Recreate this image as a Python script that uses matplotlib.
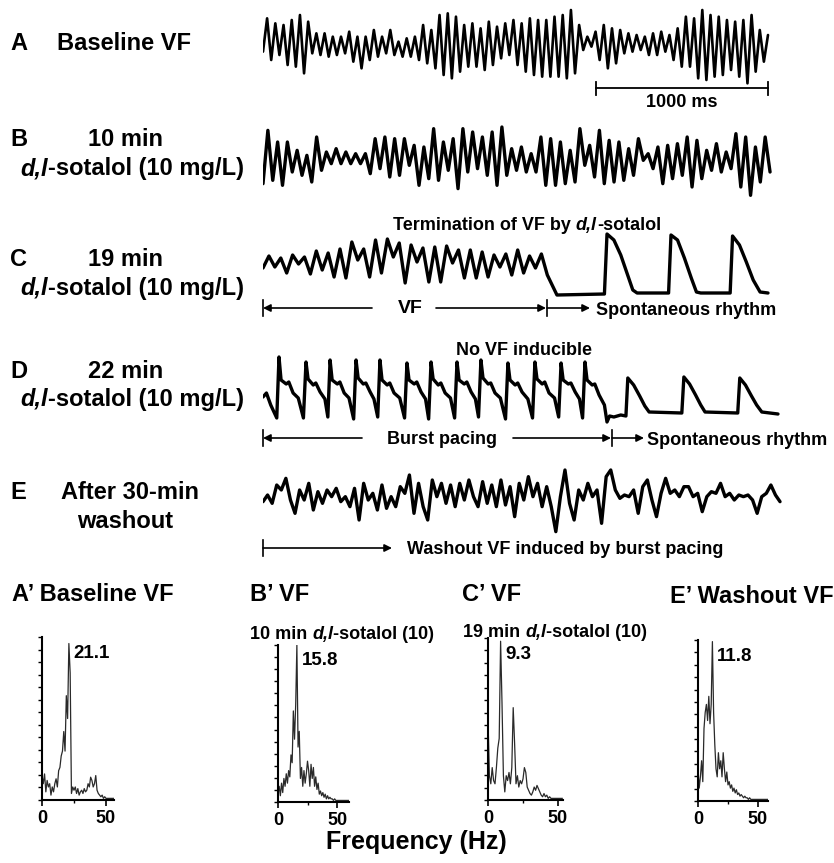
import matplotlib.pyplot as plt
import numpy as np

plt.rcParams['font.family'] = ['Liberation Sans', 'DejaVu Sans']
plt.rcParams['font.weight'] = 'bold'

# --- figure geometry (pixels) ---
W, H = 834, 863
PX_PER_MS = 0.172      # 1000 ms = 172 px in the trace rows
TRACE_X0 = 263
T_MAX = 3100

# --- trace data (extrema, arbitrary units) ---
A_DUR = 2936
A_vals = [-2.0,
          8.0, -4.5, 6.5, -3.0, 6.0, -6.0, 7.5, -6.5, 9.0, -8.5, 7.0, -2.5, 3.5, -3.0, 3.5, -3.5, 2.5, -3.0, 2.5, -2.5,
          4.0, -5.0, 2.5, -7.0, 2.5, -4.5, 4.5, -3.5, 2.5, -2.5, 4.5, -3.0, 1.0, -3.5, 2.0, -3.5, 2.5, -4.5, 6.0, -5.5,
          4.5, -7.0, 9.0, -9.0, 9.5, -10.0, 8.5, -8.0, 6.0, -6.5, 6.5, -6.5, 5.0, -7.5, 7.0, -6.0, 5.5, -4.0, 6.5,
          -3.0, 7.5, -6.0, 6.5, -8.0, 8.0, -9.0, 7.5, -9.5, 7.5, -9.5, 8.5, -9.5, 9.0, -10.0, 10.5, -8.5, 6.0,
          -1.5, 2.5, -0.5, 4.0, -4.5, 6.0, -7.0, 5.0, -5.5, 4.5, -2.5, 3.5, -2.0, 3.0, -1.5, 2.5, -3.0, 3.5,
          -3.0, 4.0, -2.0, 3.0, -4.5, 5.0, -6.5, 8.5, -6.5, 8.0, -10.0, 10.5, -10.5, 9.0, -9.5, 8.5, -9.0, 7.5,
          -7.5, 7.0, -9.5, 7.5, -11.5, 9.0, -8.0, 4.5, -5.0, 3.0]

B_DUR = 2948
B_vals = [-7.0,
          9.0, -6.0, 5.5, -7.5, 5.5, -3.5, 3.0, -4.5, 1.5, -6.5, 7.0, -3.0, 2.5, -1.0, 3.5, -1.0, 2.5, -1.0,
          2.0, -1.0, 2.0, -4.0, 6.5, -2.5, 7.0, -5.0, 6.5, -4.5, 6.5, -1.5, 4.5, -7.5, 4.0, -5.5, 9.5, -6.0,
          5.5, -3.0, 6.5, -8.5, 9.5, -3.5, 8.5, -2.5, 7.0, -4.5, 8.5, -7.5, 10.0, -4.5, 3.5, -3.0, 4.0, -3.5,
          2.0, -3.5, 7.0, -7.5, 6.5, -7.5, 5.5, -7.0, 3.0, -6.5, 9.5, -1.5, 4.5, -5.0, 9.0, -7.0, 6.0, -6.5,
          5.5, -6.0, 3.5, -4.5, 6.5, 0.0, 2.0, -2.5, 4.0, -7.0, 4.5, -5.5, 5.0, -4.5, 7.0, -8.0, 6.0, -5.5,
          3.0, -3.0, 5.0, -3.5, 2.5, -2.5, 8.0, -8.0, 7.0, -10.5, 4.0, -6.5, 7.0, -3.5]

C_VF_END = 1653
C_vf = [-0.3, 0.9, -0.2, 0.7, -0.8, 1.0, 0.1, 0.8, -0.9, 1.4, -0.5, 1.2, -1.2, 1.6, -1.3, 2.3, 0.5,
        1.6, -1.2, 2.5, -0.8, 2.6, 0.8, 2.2, -1.8, 2.0, 0.3, 1.7, -1.7, 1.8, -1.7, 1.9, 0.2, 1.5,
        -1.3, 1.5, -1.3, 1.3, -1.2, 1.0, -0.2, 1.1, -1.0, 1.5, -0.8, 0.9, -0.3, 1.1, -1.0]
C_tail_t = [1709, 1985, 2000, 2040, 2080, 2120, 2150, 2175, 2358, 2372, 2410, 2450, 2490, 2520,
            2545, 2716, 2730, 2770, 2810, 2850, 2890, 2936]
C_tail_v = [-3.0, -2.9, 3.1, 2.5, 1.0, -1.0, -2.5, -2.8, -2.8, 3.0, 2.5, 0.7, -1.3, -2.7,
            -2.8, -2.8, 2.9, 2.0, 0.3, -1.5, -2.7, -2.8]

D_t = [0, 20, 45, 80,
       93, 105, 135, 150, 175, 205, 235,
       250, 262, 292, 307, 332, 360, 377,
       390, 402, 432, 447, 472, 500, 527,
       541, 553, 583, 598, 623, 645, 667,
       680, 692, 722, 737, 762, 795, 823,
       837, 849, 879, 894, 919, 945, 963,
       977, 989, 1019, 1034, 1059, 1090, 1114,
       1128, 1140, 1170, 1185, 1210, 1235, 1253,
       1267, 1279, 1309, 1324, 1349, 1380, 1410,
       1424, 1436, 1466, 1481, 1506, 1540, 1567,
       1581, 1593, 1623, 1638, 1663, 1695, 1719,
       1733, 1745, 1775, 1790, 1815, 1840, 1858,
       1872, 1884, 1914, 1929, 1954, 1985, 2000,
       2015, 2040, 2080, 2110,
       2121, 2155, 2190, 2220, 2245, 2435,
       2447, 2480, 2515, 2545, 2570, 2760,
       2772, 2805, 2840, 2870, 2900, 2994]
D_v = [-0.7, -0.3, -1.5, -2.8,
       3.3, 1.0, 0.6, 0.8, -0.3, -0.8, -2.8,
       2.8, 1.1, 0.5, 0.7, -0.2, -0.9, -2.7,
       3.0, 1.0, 0.6, 0.8, -0.3, -0.8, -2.9,
       3.0, 1.2, 0.6, 0.7, -0.2, -0.9, -2.7,
       3.0, 1.0, 0.5, 0.7, -0.3, -0.8, -2.8,
       2.7, 1.0, 0.6, 0.8, -0.2, -0.9, -2.9,
       2.8, 1.1, 0.5, 0.7, -0.3, -0.8, -2.8,
       2.8, 1.0, 0.6, 0.8, -0.2, -0.9, -2.7,
       3.0, 1.2, 0.6, 0.7, -0.3, -0.8, -2.9,
       2.7, 1.0, 0.5, 0.7, -0.2, -0.9, -2.8,
       2.8, 1.1, 0.6, 0.8, -0.3, -0.8, -2.7,
       2.7, 1.0, 0.6, 0.7, -0.2, -0.9, -2.8,
       2.8, 1.0, 0.5, 0.6, -0.5, -1.5, -3.2,
       -2.6, -2.7, -2.5, -2.6,
       1.2, 0.5, -0.6, -1.6, -2.2, -2.3,
       1.3, 0.6, -0.5, -1.5, -2.2, -2.3,
       1.2, 0.5, -0.6, -1.5, -2.2, -2.4]

E_DUR = 3006
E_vals = [0.0, 2.0, -0.5, 5.0, 3.5, 7.0, 0.5, -3.5, 3.5, 0.5, 5.5, -2.5, 3.0, -0.5, 3.5, 1.5, 4.0, 0.0,
          1.5, -1.5, 4.0, -5.5, 5.5, 0.5, 2.5, -2.5, 5.0, -2.0, 1.5, -1.5, 4.5, 2.5, 8.0, -3.5, 5.5, -1.5,
          -5.5, 6.5, 1.5, 5.5, -0.5, 5.0, -1.5, 5.5, 0.5, 6.5, 1.5, -1.5, 6.0, -0.5, 5.0, -1.5, 6.5, -1.0,
          4.5, -4.5, 5.5, 0.5, 7.5,
          1.5, 5.5, -1.5, 4.5, -1.5, -9.0, 1.5, 9.5, -0.5, -5.5, 3.5, 0.5, 5.5, 1.5, 3.5, -6.5, 7.5, 9.5,
          3.5, 1.0, 2.0, 1.5, 3.5, -3.5, 4.5, 6.5, 0.5, -4.5, 2.5, 7.0, 2.5, 3.5, 1.5, 4.5, 4.5, 1.5,
          2.5, -3.0, 1.5, 3.0, 2.5, 5.5, 1.5, 2.5, 0.5, 2.0, 1.5, 2.0, 0.5, -3.5, 1.5, 2.5, 5.0, 2.0, 0.0]

# --- power spectra (1 Hz bins, normalised amplitude) ---
A_spec = [0.15, 0.10, 0.16, 0.05, 0.12, 0.08, 0.10, 0.03, 0.08, 0.05, 0.10, 0.13, 0.08, 0.18, 0.20,
          0.27, 0.30, 0.42, 0.30, 0.64, 0.50, 0.96, 0.78, 0.04, 0.08, 0.06, 0.08, 0.04, 0.07, 0.03,
          0.05, 0.06, 0.04, 0.07, 0.05, 0.06, 0.10, 0.08, 0.14, 0.12, 0.08, 0.10, 0.15, 0.06, 0.04,
          0.03, 0.02, 0.03, 0.01, 0.02, 0.01, 0.01, 0.01, 0.01, 0.01, 0.01, 0.01]
B_spec = [0.05, 0.10, 0.04, 0.12, 0.06, 0.15, 0.10, 0.18, 0.12, 0.20, 0.16, 0.30, 0.25, 0.58, 0.40,
          0.62, 1.00, 0.35, 0.45, 0.15, 0.22, 0.10, 0.20, 0.12, 0.18, 0.26, 0.20, 0.10, 0.24, 0.15,
          0.22, 0.10, 0.16, 0.08, 0.12, 0.05, 0.07, 0.04, 0.06, 0.03, 0.05, 0.02, 0.04, 0.02, 0.03,
          0.02, 0.02, 0.01, 0.02, 0.01, 0.01, 0.01, 0.01, 0.01, 0.01, 0.01, 0.01, 0.01, 0.01, 0.01, 0.01]
C_spec = [0.50, 0.15, 0.10, 0.20, 0.12, 0.10, 0.20, 0.32, 0.38, 0.98, 0.60, 0.15, 0.05, 0.15, 0.12,
          0.17, 0.10, 0.20, 0.57, 0.35, 0.10, 0.15, 0.08, 0.12, 0.10, 0.13, 0.20, 0.17, 0.08, 0.06,
          0.04, 0.03, 0.05, 0.08, 0.06, 0.09, 0.07, 0.05, 0.03, 0.02, 0.04, 0.02, 0.03, 0.01, 0.02,
          0.01, 0.01, 0.01, 0.01, 0.01, 0.01, 0.01, 0.01, 0.01]
E_spec = [0.20, 0.08, 0.15, 0.25, 0.12, 0.45, 0.55, 0.60, 0.50, 0.65, 0.48, 0.60, 0.99, 0.55, 0.35,
          0.20, 0.15, 0.30, 0.20, 0.25, 0.15, 0.30, 0.20, 0.12, 0.18, 0.10, 0.12, 0.08, 0.10, 0.06,
          0.08, 0.05, 0.07, 0.04, 0.05, 0.03, 0.04, 0.03, 0.02, 0.03, 0.02, 0.02, 0.01, 0.02, 0.01,
          0.01, 0.01, 0.01, 0.01, 0.01, 0.01, 0.01, 0.01, 0.01, 0.01, 0.01, 0.01, 0.01, 0.01]
DOM_FREQ = ['21.1', '15.8', '9.3', '11.8']

fig = plt.figure(figsize=(W / 100, H / 100), dpi=100)


def px_axes(x0, y0, x1, y1):
    return fig.add_axes([x0 / W, 1 - y1 / H, (x1 - x0) / W, (y1 - y0) / H])


def trace_axes(y0, y1, ylim):
    ax = px_axes(TRACE_X0, y0, TRACE_X0 + T_MAX * PX_PER_MS, y1)
    ax.set_xlim(0, T_MAX)
    ax.set_ylim(*ylim)
    ax.axis('off')
    return ax


# overlay for labels and arrows, in pixel coordinates
ov = fig.add_axes([0, 0, 1, 1])
ov.set_xlim(0, W)
ov.set_ylim(H, 0)
ov.axis('off')


def rich(x, y, parts, size):
    t = ov.text(x, y, parts[0][0], fontsize=size, fontstyle=parts[0][1], va='center', ha='left')
    for s, st in parts[1:]:
        t = ov.annotate(s, xy=(1, 0), xycoords=t, fontsize=size, fontstyle=st,
                        va='bottom', ha='left')


SOT = [('d,l', 'italic'), ('-sotalol (10 mg/L)', 'normal')]
TRACE_STYLE = dict(color='k', solid_joinstyle='round', solid_capstyle='round')

# --- trace rows ---
ax_a = trace_axes(5, 85, (-12, 12))
ax_a.plot(np.linspace(0, A_DUR, len(A_vals)), A_vals, lw=1.9, **TRACE_STYLE)
ax_a.plot([A_DUR - 1000, A_DUR], [-0.0375, -0.0375], color='k', lw=1.3,
          transform=ax_a.get_xaxis_transform(), clip_on=False)
for tx in (A_DUR - 1000, A_DUR):
    ax_a.plot([tx, tx], [0.0375, -0.125], color='k', lw=1.3,
              transform=ax_a.get_xaxis_transform(), clip_on=False)
ax_a.text(A_DUR - 500, -0.22, '1000 ms', ha='center', va='center', fontsize=13,
          transform=ax_a.get_xaxis_transform())

ax_b = trace_axes(120, 200, (-11.9, 12.1))
ax_b.plot(np.linspace(0, B_DUR, len(B_vals)), B_vals, lw=2.4, **TRACE_STYLE)

ax_c = trace_axes(225, 300, (-3.5, 4.0))
ax_c.plot(list(np.linspace(0, C_VF_END, len(C_vf))) + C_tail_t, C_vf + C_tail_v, lw=2.4, **TRACE_STYLE)

ax_d = trace_axes(345, 430, (-4.0, 4.5))
ax_d.plot(D_t, D_v, lw=2.4, **TRACE_STYLE)

ax_e = trace_axes(460, 545, (-13.0, 12.5))
ax_e.plot(np.linspace(0, E_DUR, len(E_vals)), E_vals, lw=2.4, **TRACE_STYLE)

# --- row labels ---
LBL = 17
ov.text(10, 44, 'A', fontsize=LBL, va='center')
ov.text(57, 44, 'Baseline VF', fontsize=LBL, va='center')
for letter, y1, y2, txt in [('B', 139, 169, '10 min'), ('C', 259, 288, '19 min'),
                            ('D', 371, 399, '22 min')]:
    ov.text(10, y1, letter, fontsize=LBL, va='center')
    ov.text(88, y1, txt, fontsize=LBL, va='center')
    rich(20, y2, SOT, LBL)
ov.text(10, 492, 'E', fontsize=LBL, va='center')
ov.text(61, 492, 'After 30-min', fontsize=LBL, va='center')
ov.text(125, 521, 'washout', fontsize=LBL, va='center', ha='center')

# --- annotations ---
ANN = 13
rich(393, 225, [('Termination of VF by ', 'normal'), ('d,l', 'italic'), ('-sotalol', 'normal')], ANN)
ov.text(524, 350, 'No VF inducible', fontsize=ANN, va='center', ha='center')

arrow = dict(arrowstyle='-|>', lw=1.2, color='k', mutation_scale=11, shrinkA=0, shrinkB=0)


def arrow_row(y, segs, ticks):
    for x_from, x_to in segs:
        ov.annotate('', xy=(x_to, y), xytext=(x_from, y), arrowprops=arrow)
    for x in ticks:
        ov.plot([x, x], [y - 8, y + 8], color='k', lw=1.2)


arrow_row(308, [(372, 263), (436, 546), (547, 590)], [263, 547])
ov.text(410, 308, 'VF', fontsize=ANN + 1, va='center', ha='center')
ov.text(596, 310, 'Spontaneous rhythm', fontsize=ANN, va='center')

arrow_row(438, [(362, 263), (513, 611), (612, 644)], [263, 612])
ov.text(442, 439, 'Burst pacing', fontsize=ANN, va='center', ha='center')
ov.text(647, 440, 'Spontaneous rhythm', fontsize=ANN, va='center')

arrow_row(548, [(263, 392)], [263])
ov.text(407, 549, 'Washout VF induced by burst pacing', fontsize=ANN, va='center')

# --- spectra ---
TTL = 17
ov.text(12, 594, 'A\u2019 Baseline VF', fontsize=TTL, va='center')
ov.text(250, 594, 'B\u2019 VF', fontsize=TTL, va='center')
ov.text(462, 594, 'C\u2019 VF', fontsize=TTL, va='center')
ov.text(670, 596, 'E\u2019 Washout VF', fontsize=TTL, va='center')
rich(250, 634, [('10 min ', 'normal'), ('d,l', 'italic'), ('-sotalol (10)', 'normal')], 13)
rich(463, 632, [('19 min ', 'normal'), ('d,l', 'italic'), ('-sotalol (10)', 'normal')], 13)

spec_layout = [  # x0, top, bottom, px per 50 Hz, fmax
    (42, 637, 800, 64, 56),
    (278, 645, 802, 59, 60),
    (488, 638, 800, 70, 53.6),
    (698, 640, 801, 60, 58.3),
]
for (x0, top, bot, px50, fmax), amps, dom in zip(spec_layout, [A_spec, B_spec, C_spec, E_spec], DOM_FREQ):
    ax = px_axes(x0, top, x0 + fmax * px50 / 50, bot)
    ax.plot(np.arange(len(amps)), amps, color='#2a2a2a', lw=0.9)
    ax.set_xlim(0, fmax)
    ax.set_ylim(0, 1)
    for s in ('top', 'right'):
        ax.spines[s].set_visible(False)
    for s in ('left', 'bottom'):
        ax.spines[s].set_linewidth(1.5)
    ax.set_yticks(np.linspace(0, 1, 14))
    ax.tick_params(axis='y', length=3, width=1, labelleft=False)
    ax.set_xticks([0, 50])
    ax.set_xticks([25], minor=True)
    ax.tick_params(axis='x', length=4, width=1.2, pad=3, labelsize=13)
    ax.tick_params(axis='x', which='minor', length=2, width=1)
    ax.patch.set_alpha(0)
    peak = int(np.argmax(amps))
    ax.text(peak + 1.6 * 50 / px50 * 3, 0.9, dom, fontsize=13.5, va='center', ha='left',
            transform=ax.transData)

ov.text(416, 842, 'Frequency (Hz)', fontsize=18, va='center', ha='center')

fig.savefig('out.png', dpi=100)
